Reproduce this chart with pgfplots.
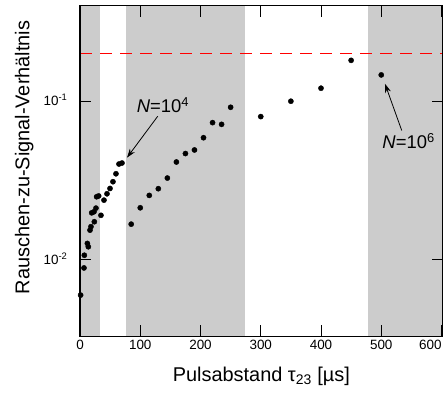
\documentclass[border=0pt]{standalone}
\usepackage{fontspec}
\setmainfont{Liberation Sans}
\usepackage{pgfplots}
\pgfplotsset{compat=1.18}
\usetikzlibrary{arrows.meta}
\definecolor{band}{RGB}{204,204,204}
\begin{document}
\begin{tikzpicture}
\begin{axis}[
  at={(0,0)}, anchor=south west,
  scale only axis, width=362.7bp, height=330.6bp,
  xmin=0, xmax=602, ymode=log, ymin=0.0033, ymax=0.4,
  axis on top,
  axis line style={line width=1.2bp},
  tick align=inside, major tick length=11bp,
  tick style={line width=0.9bp, black},
  xminorticks=false, yminorticks=false,
  xtick={0,100,200,300,400,500,600},
  xticklabels={0,100,200,300,400,500,\makebox[0pt][r]{600}},
  ytick={0.01,0.1},
  yticklabels={10\smash{\textsuperscript{-2}},10\smash{\textsuperscript{-1}}},
  tick label style={font=\fontsize{13.5}{16}\selectfont},
  yticklabel style={xshift=-9bp},
  xlabel={Pulsabstand τ\textsubscript{23} [µs]},
  ylabel={Rauschen-zu-Signal-Verhältnis},
  xlabel style={at={(axis description cs:0.5,0)}, anchor=base, yshift=-45.4bp, font=\fontsize{20}{24}\selectfont},
  ylabel style={at={([xshift=-50.5bp]axis description cs:0,0.541)}, anchor=base, font=\fontsize{20}{24}\selectfont},
]
\addplot[draw=none, fill=band, forget plot] coordinates {(0,0.0033) (33,0.0033) (33,0.4) (0,0.4)} -- cycle;
\addplot[draw=none, fill=band, forget plot] coordinates {(76,0.0033) (274,0.0033) (274,0.4) (76,0.4)} -- cycle;
\addplot[draw=none, fill=band, forget plot] coordinates {(478,0.0033) (602,0.0033) (602,0.4) (478,0.4)} -- cycle;
\addplot[red, line width=1.2bp, dash pattern=on 12bp off 8bp] coordinates {(0,0.2) (602,0.2)};
\addplot[only marks, mark=*, mark size=2.6bp, black] coordinates {
(1,0.0060) (6.6,0.0089) (7.2,0.0107) (12.2,0.0127) (13.8,0.0121)
(16.6,0.0154) (18.2,0.0162) (19.4,0.0198) (23.2,0.0201) (23.8,0.0174)
(26.5,0.0212) (27.6,0.0250) (31,0.0253) (34.8,0.0191) (39.8,0.0238)
(44.8,0.0261) (49.8,0.0282) (54.7,0.0311) (59.7,0.0349) (64.7,0.0402)
(69.7,0.0408)
};
\addplot[only marks, mark=*, mark size=2.6bp, black] coordinates {
(85,0.0168) (100,0.0213) (115,0.0255) (130,0.0281) (145,0.0328)
(160,0.0414) (175,0.0468) (190,0.0493) (205,0.0589) (220,0.0733)
(235,0.0715) (250,0.0916) (300,0.080) (350,0.100) (400,0.1208)
(450,0.181) (500,0.1465)
};
\node[anchor=base west, inner sep=0pt, font=\fontsize{18.5}{20}\selectfont] at (axis cs:94.1,0.0852) {\textit{N}=10\textsuperscript{4}};
\node[anchor=base west, inner sep=0pt, font=\fontsize{18.5}{20}\selectfont] at (axis cs:501.7,0.0501) {\textit{N}=10\textsuperscript{6}};
\draw[-{Stealth[length=9bp,width=6bp]}, line width=0.8bp] (axis cs:129,0.0804) -- (axis cs:78,0.0441);
\draw[-{Stealth[length=9bp,width=6bp]}, line width=0.8bp] (axis cs:534,0.0654) -- (axis cs:506.2,0.1288);
\end{axis}
\pgfresetboundingbox
\path[use as bounding box] (-80bp,-57.7bp) rectangle (368bp,336.3bp);
\end{tikzpicture}
\end{document}
